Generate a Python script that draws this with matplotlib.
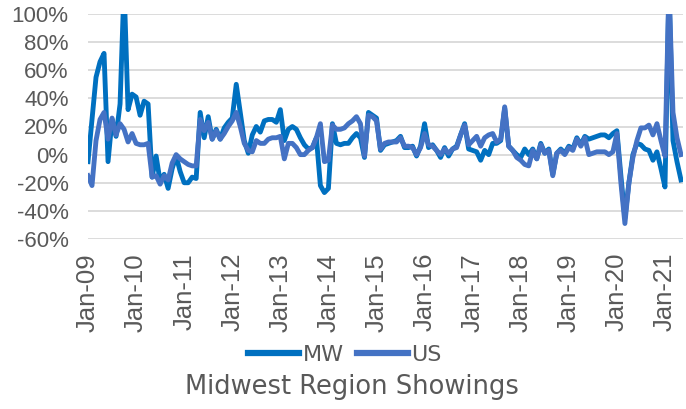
import numpy as np
import matplotlib.pyplot as plt
from matplotlib import font_manager

# Midwest vs US showings, year-over-year change (%), monthly Jan-09 .. May-21

mw = [-5, 25, 55, 66, 72, -5, 25, 13, 36, 120, 32, 43,
      41, 28, 38, 36, -16, -1, -19, -14, -24, -10, -1, -12,
      -20, -20, -16, -17, 30, 12, 27, 11, 18, 11, 19, 23,
      26, 50, 30, 10, 1, 14, 20, 16, 24, 25, 25, 23,
      32, 10, 18, 20, 18, 12, 7, 4, 5, 12, -22, -27,
      -24, 22, 8, 7, 8, 8, 12, 15, 12, -2, 30, 28,
      26, 3, 7, 8, 9, 10, 13, 5, 5, 6, -1, 6,
      22, 5, 7, 3, -2, 5, -1, 4, 6, 14, 22, 4,
      3, 2, -4, 3, 0, 8, 8, 10, 33, 6, 3, 0,
      -2, 4, 0, 4, -3, 8, 1, 4, -14, 1, 4, 1,
      6, 4, 12, 7, 13, 11, 12, 13, 14, 14, 12, 15,
      17, -15, -45, -20, 0, 8, 7, 4, 3, -4, 2, -10,
      -23, 120, 10, -5, -18]

us = [-15, -22, 10, 25, 30, 11, 26, 14, 22, 18, 9, 15,
      8, 7, 7, 8, -16, -15, -21, -15, -18, -6, 0, -3,
      -5, -7, -8, -8, 25, 17, 23, 11, 17, 11, 15, 20,
      24, 30, 20, 8, 3, 2, 10, 8, 8, 11, 12, 12,
      13, -3, 8, 8, 5, 0, 0, 3, 5, 12, 22, -5,
      -4, 21, 18, 18, 19, 22, 24, 27, 22, -1, 28, 27,
      24, 4, 8, 9, 9, 9, 12, 6, 6, 5, 0, 5,
      15, 7, 6, 3, 0, 4, 1, 4, 5, 14, 21, 7,
      10, 13, 6, 12, 14, 15, 9, 11, 34, 6, 3, -2,
      -4, -7, -8, 3, -3, 7, 1, 3, -15, 1, 3, 0,
      5, 3, 11, 6, 12, 0, 1, 2, 2, 2, 0, 2,
      15, -20, -49, -20, -2, 10, 19, 19, 21, 14, 22, 10,
      -1, 120, 30, 12, 0]

year_labels = ['Jan-09', 'Jan-10', 'Jan-11', 'Jan-12', 'Jan-13', 'Jan-14', 'Jan-15',
               'Jan-16', 'Jan-17', 'Jan-18', 'Jan-19', 'Jan-20', 'Jan-21']
y_ticks = [-60, -40, -20, 0, 20, 40, 60, 80, 100]

installed = {f.name for f in font_manager.fontManager.ttflist}
tick_font = 'Liberation Sans' if 'Liberation Sans' in installed else 'DejaVu Sans'
if 'Liberation Sans Narrow' in installed:
    ytick_font, ytick_size = 'Liberation Sans Narrow', 18.5
else:
    ytick_font, ytick_size = tick_font, 16

x = np.arange(len(mw))

fig = plt.figure(figsize=(6.86, 4.09), dpi=100)
ax = fig.add_axes([88 / 686, 1 - 239 / 409, (683 - 88) / 686, (239 - 14) / 409])

ax.plot(x, mw, color='#0070C0', lw=3.5, solid_joinstyle='round', label='MW')
ax.plot(x, us, color='#4472C4', lw=3.5, solid_joinstyle='round', label='US')

ax.set_ylim(-60, 100)
ax.set_xlim(0, len(mw) - 0.5)
ax.set_yticks(y_ticks)
ax.set_yticklabels([f'{v}%' for v in y_ticks])
ax.set_xticks(np.arange(0, 12 * len(year_labels), 12))
ax.set_xticklabels(year_labels, rotation=90)
ax.grid(axis='y', color='#D9D9D9', lw=1.3)
ax.set_axisbelow(True)
for s in ax.spines.values():
    s.set_visible(False)
ax.tick_params(length=0)
ax.tick_params(axis='y', pad=14)
ax.tick_params(axis='x', pad=10)
for lab in ax.get_xticklabels():
    lab.set_fontfamily(tick_font)
    lab.set_fontsize(18.5)
    lab.set_color('#595959')
for lab in ax.get_yticklabels():
    lab.set_fontfamily(ytick_font)
    lab.set_fontsize(ytick_size)
    lab.set_color('#595959')

leg = fig.legend(loc='center', bbox_to_anchor=(345 / 686, 1 - 355 / 409), ncol=2,
                 frameon=False, handlelength=2.3, handletextpad=0.15, columnspacing=0.6,
                 prop={'family': 'DejaVu Sans', 'size': 16})
for t in leg.get_texts():
    t.set_color('#595959')
for h in leg.get_lines():
    h.set_linewidth(4.5)

fig.text(352 / 686, 1 - 387 / 409, 'Midwest Region Showings', ha='center', va='center',
         family='DejaVu Sans', fontsize=18.5, color='#595959')

fig.savefig('out.png', dpi=100)
